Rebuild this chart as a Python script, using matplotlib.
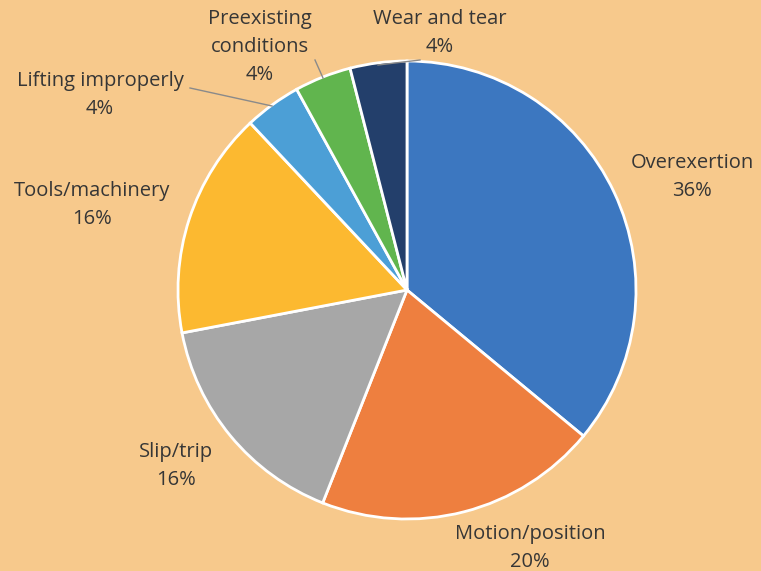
import matplotlib.pyplot as plt

# Injury causes (clockwise from 12 o'clock)
causes = ['Overexertion', 'Motion/position', 'Slip/trip', 'Tools/machinery',
          'Lifting improperly', 'Preexisting\nconditions', 'Wear and tear']
shares = [36, 20, 16, 16, 4, 4, 4]
colors = ['#3C77C0', '#EE7F3F', '#A7A7A7', '#FCB930',
          '#4C9FD6', '#61B54E', '#233F6B']

# label block centres (pixels from top-left)
label_pos = [(692, 177), (530, 548), (176, 466), (92, 205),
             (100, 95), (260, 47), (440, 33)]
# leader lines for the small slices (pixels)
leaders = [[(190, 88), (272, 106)],
           [(315, 60), (323, 78)],
           [(378, 65), (420, 60)]]

W, H = 761, 571
bg = '#F7C98C'

fig = plt.figure(figsize=(W / 100, H / 100), dpi=100, facecolor=bg)
ax = fig.add_axes([0, 0, 1, 1])
ax.set_facecolor(bg)

ax.pie(shares, colors=colors, startangle=90, counterclock=False,
       center=(407, H - 290), radius=229,
       wedgeprops=dict(edgecolor='white', linewidth=2))

ax.set_xlim(0, W)
ax.set_ylim(0, H)
ax.set_aspect('equal')
ax.axis('off')

for name, val, (x, y) in zip(causes, shares, label_pos):
    txt = f'{name}\n{val}%'
    ax.text(x, H - y, txt, ha='center', va='center', fontsize=14.5,
            color='#363636', family='Open Sans', linespacing=1.55)

for seg in leaders:
    xs = [p[0] for p in seg]
    ys = [H - p[1] for p in seg]
    ax.plot(xs, ys, color='#8A8A8A', lw=1)

fig.savefig('out.png', dpi=100, facecolor=bg)
